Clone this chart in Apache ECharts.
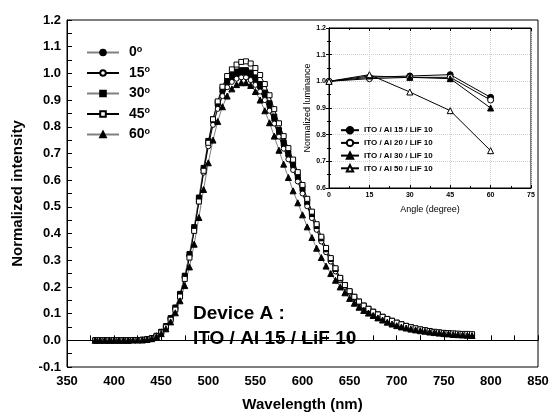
<!DOCTYPE html>
<html>
<head>
<meta charset="utf-8">
<script src="https://cdn.jsdelivr.net/npm/echarts@6/dist/echarts.min.js"></script>
<style>
  html, body { margin: 0; padding: 0; background: #fff; }
  #chart { width: 549px; height: 414px; }
</style>
</head>
<body>
<div id="chart"></div>
<script>
// spectra, wavelength in nm
const wavelengths = [380, 385, 390, 395, 400, 405, 410, 415, 420, 425, 430, 435, 440, 445, 450, 455, 460, 465, 470, 475,
  480, 485, 490, 495, 500, 505, 510, 515, 520, 525, 530, 535, 540, 545, 550, 555, 560, 565, 570, 575,
  580, 585, 590, 595, 600, 605, 610, 615, 620, 625, 630, 635, 640, 645, 650, 655, 660, 665, 670, 675,
  680, 685, 690, 695, 700, 705, 710, 715, 720, 725, 730, 735, 740, 745, 750, 755, 760, 765, 770, 775, 780]

const deg0 = [0, 0, 0, 0, 0, 0, 0, 0, 0.001, 0.001, 0.002,
  0.004, 0.008, 0.017, 0.032, 0.053, 0.083, 0.122, 0.172, 0.24, 0.32,
  0.42, 0.53, 0.64, 0.74, 0.82, 0.88, 0.93, 0.963, 0.983, 0.995,
  1.0, 1.0, 0.99, 0.972, 0.947, 0.915, 0.875, 0.825, 0.775, 0.73,
  0.69, 0.65, 0.605, 0.56, 0.51, 0.465, 0.42, 0.375, 0.335, 0.30,
  0.262, 0.228, 0.202, 0.18, 0.16, 0.142, 0.128, 0.116, 0.105, 0.095,
  0.087, 0.079, 0.072, 0.065, 0.059, 0.053, 0.048, 0.043, 0.039, 0.036,
  0.033, 0.030, 0.028, 0.026, 0.024, 0.023, 0.021, 0.020, 0.019, 0.018]

const deg15 = [0, 0, 0, 0, 0, 0, 0, 0, 0.001, 0.001, 0.002,
  0.004, 0.008, 0.017, 0.031, 0.052, 0.081, 0.12, 0.17, 0.236, 0.315,
  0.413, 0.52, 0.628, 0.727, 0.807, 0.867, 0.915, 0.948, 0.968, 0.98,
  0.985, 0.985, 0.975, 0.957, 0.932, 0.9, 0.86, 0.812, 0.763, 0.718,
  0.678, 0.638, 0.595, 0.55, 0.502, 0.458, 0.414, 0.37, 0.33, 0.295,
  0.258, 0.225, 0.2, 0.178, 0.158, 0.14, 0.126, 0.114, 0.104, 0.094,
  0.086, 0.078, 0.071, 0.064, 0.058, 0.052, 0.047, 0.043, 0.039, 0.036,
  0.033, 0.030, 0.028, 0.026, 0.025, 0.024, 0.023, 0.022, 0.021, 0.020]

const deg30 = [0, 0, 0, 0, 0, 0, 0, 0, 0.001, 0.001, 0.002,
  0.004, 0.008, 0.017, 0.032, 0.053, 0.083, 0.123, 0.174, 0.242, 0.323,
  0.424, 0.535, 0.646, 0.747, 0.828, 0.89, 0.94, 0.974, 0.995, 1.007,
  1.012, 1.012, 1.003, 0.985, 0.96, 0.928, 0.888, 0.838, 0.788, 0.742,
  0.70, 0.66, 0.615, 0.57, 0.52, 0.473, 0.428, 0.382, 0.341, 0.305,
  0.267, 0.232, 0.206, 0.183, 0.163, 0.145, 0.13, 0.118, 0.107, 0.097,
  0.088, 0.08, 0.073, 0.066, 0.06, 0.054, 0.049, 0.044, 0.04, 0.037,
  0.034, 0.031, 0.029, 0.027, 0.025, 0.024, 0.022, 0.021, 0.020, 0.019]

const deg45 = [0, 0, 0, 0, 0, 0, 0, 0, 0.001, 0.001, 0.002,
  0.003, 0.007, 0.015, 0.029, 0.049, 0.077, 0.115, 0.164, 0.23, 0.31,
  0.41, 0.52, 0.635, 0.74, 0.828, 0.895, 0.95, 0.99, 1.015, 1.033,
  1.043, 1.045, 1.037, 1.02, 0.994, 0.96, 0.918, 0.866, 0.813, 0.765,
  0.72, 0.677, 0.63, 0.582, 0.53, 0.482, 0.435, 0.388, 0.346, 0.308,
  0.27, 0.234, 0.207, 0.184, 0.163, 0.145, 0.13, 0.118, 0.107, 0.097,
  0.088, 0.08, 0.073, 0.066, 0.06, 0.054, 0.049, 0.045, 0.041, 0.038,
  0.035, 0.032, 0.030, 0.028, 0.027, 0.026, 0.025, 0.024, 0.024, 0.023]

const deg60 = [0, 0, 0, 0, 0, 0, 0, 0, 0.001, 0.001, 0.001,
  0.003, 0.006, 0.013, 0.025, 0.043, 0.069, 0.103, 0.148, 0.205, 0.275,
  0.36, 0.46, 0.565, 0.665, 0.75, 0.82, 0.875, 0.915, 0.942, 0.958,
  0.965, 0.965, 0.955, 0.932, 0.9, 0.86, 0.815, 0.765, 0.712, 0.66,
  0.61, 0.56, 0.515, 0.47, 0.425, 0.385, 0.345, 0.31, 0.278, 0.25,
  0.225, 0.2, 0.178, 0.157, 0.139, 0.124, 0.112, 0.102, 0.093, 0.084,
  0.076, 0.068, 0.061, 0.055, 0.05, 0.046, 0.042, 0.039, 0.036, 0.034,
  0.031, 0.029, 0.027, 0.025, 0.024, 0.022, 0.021, 0.02, 0.019, 0.018]

const specNames = ['0', '15', '30', '45', '60']

// inset: luminance vs angle
const angles = [0, 15, 30, 45, 60]
const lumAl15 = [1.0, 1.015, 1.02, 1.025, 0.94]
const lumAl20 = [1.0, 1.01, 1.015, 1.015, 0.93]
const lumAl30 = [1.0, 1.02, 1.015, 1.01, 0.90]
const lumAl50 = [1.0, 1.025, 0.96, 0.89, 0.74]
const lumNames = ['ITO / Al 15 / LiF 10', 'ITO / Al 20 / LiF 10', 'ITO / Al 30 / LiF 10', 'ITO / Al 50 / LiF 10']

const FONT = '"Liberation Sans", Arial, sans-serif'

const specSeries = (name, vals, symbol, fill, lineColor, size) => ({
  name: name,
  type: 'line',
  xAxisIndex: 0,
  yAxisIndex: 0,
  data: wavelengths.map((w, i) => [w, vals[i]]),
  symbol: symbol,
  symbolSize: size,
  showAllSymbol: true,
  itemStyle: { color: fill, borderColor: '#000', borderWidth: 1 },
  lineStyle: { color: lineColor, width: 1 },
  emphasis: { disabled: true }
})

const lumSeries = (name, vals, symbol, fill) => ({
  name: name,
  type: 'line',
  xAxisIndex: 1,
  yAxisIndex: 1,
  data: angles.map((a, i) => [a, vals[i]]),
  symbol: symbol,
  symbolSize: 6,
  itemStyle: { color: fill, borderColor: '#000', borderWidth: 1 },
  lineStyle: { color: '#000', width: 1 },
  emphasis: { disabled: true }
})

const boldLabel = (size) => ({ fontFamily: FONT, fontWeight: 'bold', fontSize: size, color: '#000' })

// one legend block per spectrum so the rows sit where the figure has them
const specLegend = (name, i) => ({
  data: [name],
  orient: 'vertical', left: 86, top: 45 + i * 20.5, padding: 0,
  itemWidth: 32, itemHeight: 7,
  selectedMode: false,
  formatter: n => '{a|' + n + '}{s|o}',
  textStyle: {
    padding: [0, 0, 0, 5],
    rich: {
      a: boldLabel(14),
      s: Object.assign({ verticalAlign: 'top', padding: [0, 0, 6, 0] }, boldLabel(9))
    }
  }
})

const axisBlack = { lineStyle: { color: '#000' } }

const option = {
  animation: false,
  backgroundColor: '#fff',
  grid: [
    { left: 67, top: 20, right: 11, bottom: 47, outerBoundsMode: 'none', show: true, borderColor: '#000', borderWidth: 1 },
    { left: 329, top: 28, right: 18, bottom: 226, outerBoundsMode: 'none', show: true, borderColor: '#000', borderWidth: 1, backgroundColor: '#fff' }
  ],
  xAxis: [
    {
      gridIndex: 0, type: 'value', min: 350, max: 850, interval: 50,
      name: 'Wavelength (nm)', nameLocation: 'middle', nameGap: 30,
      nameTextStyle: boldLabel(15),
      axisLine: axisBlack,
      axisTick: { inside: true, length: 5, lineStyle: { color: '#000' } },
      minorTick: { show: true, splitNumber: 2, length: 5, lineStyle: { color: '#000' } },
      axisLabel: Object.assign({ margin: 8 }, boldLabel(13)),
      splitLine: { show: false }
    },
    {
      gridIndex: 1, type: 'value', min: 0, max: 75, interval: 15,
      name: 'Angle (degree)', nameLocation: 'middle', nameGap: 17,
      nameTextStyle: { fontFamily: FONT, fontSize: 9, color: '#000' },
      axisLine: axisBlack,
      axisTick: { inside: true, length: 3, lineStyle: { color: '#000' } },
      minorTick: { show: true, splitNumber: 2, length: 2, lineStyle: { color: '#000' } },
      axisLabel: Object.assign({ margin: 4 }, boldLabel(7)),
      splitLine: { show: true, lineStyle: { color: '#d0d0d0', type: 'dotted' } }
    },
    {
      gridIndex: 1, type: 'value', min: 0, max: 75, interval: 15, position: 'top',
      axisLine: axisBlack,
      axisTick: { inside: true, length: 3, lineStyle: { color: '#000' } },
      minorTick: { show: true, splitNumber: 2, length: 2, lineStyle: { color: '#000' } },
      axisLabel: { show: false },
      splitLine: { show: false }
    }
  ],
  yAxis: [
    {
      gridIndex: 0, type: 'value', min: -0.1, max: 1.2, interval: 0.1,
      name: 'Normalized intensity', nameLocation: 'middle', nameGap: 42,
      nameTextStyle: boldLabel(15),
      axisLine: axisBlack,
      axisTick: { inside: true, length: 5, lineStyle: { color: '#000' } },
      minorTick: { show: true, splitNumber: 2, length: 5, lineStyle: { color: '#000' } },
      axisLabel: Object.assign({ margin: 6, formatter: v => v.toFixed(1) }, boldLabel(13)),
      splitLine: { show: false }
    },
    {
      gridIndex: 1, type: 'value', min: 0.6, max: 1.2, interval: 0.1,
      name: 'Normalized luminance', nameLocation: 'middle', nameGap: 15,
      nameTextStyle: { fontFamily: FONT, fontSize: 9, color: '#000' },
      axisLine: axisBlack,
      axisTick: { inside: true, length: 3, lineStyle: { color: '#000' } },
      minorTick: { show: true, splitNumber: 2, length: 2, lineStyle: { color: '#000' } },
      axisLabel: Object.assign({ margin: 3, formatter: v => v.toFixed(1) }, boldLabel(7)),
      splitLine: { show: true, lineStyle: { color: '#d0d0d0', type: 'dotted' } }
    },
    {
      gridIndex: 1, type: 'value', min: 0.6, max: 1.2, interval: 0.1, position: 'right',
      axisLine: axisBlack,
      axisTick: { inside: true, length: 3, lineStyle: { color: '#000' } },
      minorTick: { show: true, splitNumber: 2, length: 2, lineStyle: { color: '#000' } },
      axisLabel: { show: false },
      splitLine: { show: false }
    }
  ],
  legend: specNames.map(specLegend).concat([
    {
      data: lumNames,
      orient: 'vertical', left: 340, top: 126, padding: 0,
      itemWidth: 18, itemHeight: 8, itemGap: 4.3,
      selectedMode: false,
      textStyle: boldLabel(8)
    }
  ]),
  graphic: [
    { type: 'text', left: 193, top: 304, style: { text: 'Device A :', font: 'bold 19px ' + FONT, fill: '#000' } },
    { type: 'text', left: 193, top: 329, style: { text: 'ITO / Al 15 / LiF 10', font: 'bold 19px ' + FONT, fill: '#000' } }
  ],
  series: [
    specSeries(specNames[0], deg0, 'circle', '#000', '#808080', 5),
    specSeries(specNames[1], deg15, 'circle', '#fff', '#000', 5),
    specSeries(specNames[2], deg30, 'rect', '#000', '#808080', 5),
    specSeries(specNames[3], deg45, 'rect', '#fff', '#000', 5),
    specSeries(specNames[4], deg60, 'triangle', '#000', '#808080', 6),
    lumSeries(lumNames[0], lumAl15, 'circle', '#000'),
    lumSeries(lumNames[1], lumAl20, 'circle', '#fff'),
    lumSeries(lumNames[2], lumAl30, 'triangle', '#000'),
    lumSeries(lumNames[3], lumAl50, 'triangle', '#fff')
  ]
}

const chart = echarts.init(document.getElementById('chart'))
chart.setOption(option)
</script>
</body>
</html>
